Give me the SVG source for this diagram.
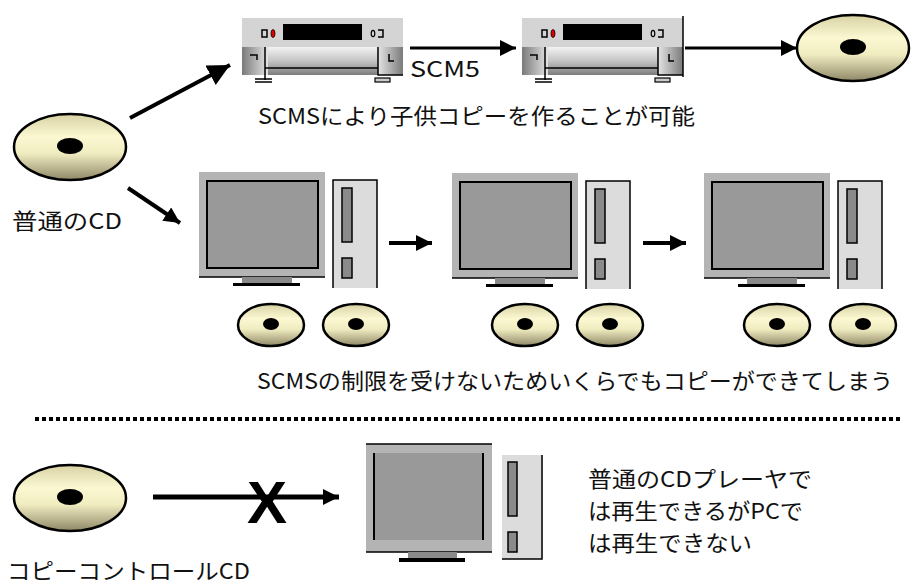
<svg xmlns="http://www.w3.org/2000/svg" width="911" height="585" viewBox="0 0 911 585">
  <style>
    .lbl { font-family: "Noto Sans CJK JP", "Liberation Sans", sans-serif; font-size: 22px; fill: #111; }
    .edge { stroke: #000; fill: none; }
    .disc { stroke: #000; stroke-width: 2.5; fill: url(#discFill); }
    .hole { fill: #000; }
    .monitor { fill: #b4b4b4; }
    .screen { fill: #999; }
    .tower { fill: #dcdcdc; }
    .slot { fill: #8a8a8a; stroke: #000; stroke-width: 1.5; }
  </style>
  <defs>
    <linearGradient id="discFill" x1="0" y1="0" x2="0" y2="1">
      <stop offset="0" stop-color="#d8d2a4"/>
      <stop offset="0.35" stop-color="#fbf8d2"/>
      <stop offset="0.6" stop-color="#f0ecc0"/>
      <stop offset="1" stop-color="#8f8868"/>
    </linearGradient>
    <linearGradient id="deckBody" x1="0" y1="0" x2="0" y2="1">
      <stop offset="0" stop-color="#f2f2f2"/>
      <stop offset="0.5" stop-color="#c4c4c4"/>
      <stop offset="1" stop-color="#7c7c7c"/>
    </linearGradient>
    <linearGradient id="capL" x1="0" y1="0" x2="1" y2="0">
      <stop offset="0" stop-color="#7a7a7a"/>
      <stop offset="1" stop-color="#e4e4e4"/>
    </linearGradient>
    <linearGradient id="capR" x1="0" y1="0" x2="1" y2="0">
      <stop offset="0" stop-color="#e4e4e4"/>
      <stop offset="1" stop-color="#7a7a7a"/>
    </linearGradient>
    <marker id="headL" markerUnits="userSpaceOnUse" markerWidth="24" markerHeight="22" refX="22" refY="11" orient="auto">
      <path d="M0,0 L22,11 L0,22 Z" fill="#000"/>
    </marker>
    <marker id="headM" markerUnits="userSpaceOnUse" markerWidth="18" markerHeight="16" refX="16" refY="8" orient="auto">
      <path d="M0,0 L16,8 L0,16 Z" fill="#000"/>
    </marker>
    <!-- tape deck -->
    <g id="deck">
      <rect x="0" y="0" width="161" height="30" fill="#d4d4d4"/>
      <rect x="41" y="6" width="79" height="16" fill="#000"/>
      <rect x="20" y="12" width="5" height="7" fill="none" stroke="#000" stroke-width="1.5"/>
      <ellipse cx="31" cy="15.5" rx="2" ry="4" fill="#e00000" stroke="#000" stroke-width="0.8"/>
      <ellipse cx="131" cy="15.5" rx="1.8" ry="3.2" fill="none" stroke="#000" stroke-width="1.2"/>
      <path d="M136,12 H141 V19 H136" fill="none" stroke="#000" stroke-width="1.5"/>
      <rect x="0" y="29" width="161" height="28" fill="url(#deckBody)"/>
      <rect x="0" y="29" width="26" height="28" fill="url(#capL)"/>
      <rect x="136" y="29" width="25" height="28" fill="url(#capR)"/>
      <path d="M8,37 H15 V42" fill="none" stroke="#000" stroke-width="1.5"/>
      <path d="M147,36 V43 H152" fill="none" stroke="#000" stroke-width="1.5"/>
      <path d="M23,29 V62 M23,50 H136 M136,29 V57 H161" fill="none" stroke="#000" stroke-width="1.5"/>
      <path d="M13,61 H30 M13,64 H30" stroke="#000" stroke-width="1.5"/>
      <rect x="133" y="60" width="15" height="4" fill="#ccc" stroke="#000" stroke-width="1.2"/>
    </g>
    <!-- desktop computer -->
    <g id="pc">
      <rect x="0" y="0" width="126" height="105" class="monitor"/>
      <rect x="8" y="9" width="111" height="87" class="screen" stroke="#000" stroke-width="2"/>
      <line x1="0" y1="105" x2="126" y2="105" stroke="#000" stroke-width="1.5"/>
      <rect x="43" y="105" width="50" height="6" fill="#8a8a8a"/>
      <rect x="34" y="111" width="67" height="3" fill="#000"/>
      <rect x="134" y="8" width="44" height="108" class="tower"/>
      <path d="M134,116 V8 H178 V116" fill="none" stroke="#000" stroke-width="1.5"/>
      <rect x="143" y="16" width="10" height="54" class="slot"/>
      <rect x="143" y="86" width="10" height="20" class="slot"/>
    </g>
    <g id="bigDisc">
      <ellipse cx="0" cy="0" rx="56" ry="33" class="disc"/>
      <ellipse cx="0" cy="-1" rx="13" ry="8" class="hole"/>
    </g>
    <g id="smallDisc">
      <ellipse cx="0" cy="0" rx="33" ry="21" class="disc"/>
      <ellipse cx="0" cy="-1" rx="8" ry="6" class="hole"/>
    </g>
  </defs>

  <rect width="911" height="585" fill="#fff"/>

  <!-- connectors -->
  <g id="connectors">
    <line x1="130" y1="118" x2="230" y2="65" class="edge" stroke-width="4" marker-end="url(#headL)"/>
    <line x1="128" y1="188" x2="180" y2="223" class="edge" stroke-width="4" marker-end="url(#headM)"/>
    <line x1="410" y1="48" x2="516" y2="48" class="edge" stroke-width="3" marker-end="url(#headM)"/>
    <line x1="685" y1="48" x2="797" y2="48" class="edge" stroke-width="3" marker-end="url(#headM)"/>
    <line x1="389" y1="243" x2="432" y2="243" class="edge" stroke-width="4" marker-end="url(#headM)"/>
    <line x1="643" y1="243" x2="686" y2="243" class="edge" stroke-width="4" marker-end="url(#headM)"/>
    <line x1="153" y1="497" x2="339" y2="497" class="edge" stroke-width="5" marker-end="url(#headM)"/>
    <text x="247" y="523" font-family="Liberation Sans, sans-serif" font-size="60" font-weight="bold" fill="#000">X</text>
    <line x1="35" y1="419" x2="903" y2="419" stroke="#000" stroke-width="4" stroke-dasharray="4 3"/>
  </g>

  <!-- top row: CD to decks -->
  <g id="cd-normal">
    <use href="#bigDisc" x="70" y="147"/>
    <text class="lbl" x="12" y="229" textLength="110" lengthAdjust="spacingAndGlyphs">普通のCD</text>
  </g>
  <g id="deck-1"><use href="#deck" x="242" y="18"/></g>
  <g id="deck-2">
    <use href="#deck" x="522" y="18"/>
    <line x1="683" y1="16" x2="683" y2="77" stroke="#000" stroke-width="1.5"/>
  </g>
  <text class="lbl" x="410" y="77" font-size="20" textLength="70" lengthAdjust="spacingAndGlyphs">SCM5</text>
  <g id="cd-copy"><use href="#bigDisc" x="853" y="48"/></g>
  <text class="lbl" x="258" y="124" textLength="437" lengthAdjust="spacingAndGlyphs">SCMSにより子供コピーを作ることが可能</text>

  <!-- middle row: computers -->
  <g id="pc-1">
    <use href="#pc" x="199" y="172"/>
    <use href="#smallDisc" x="271" y="325"/>
    <use href="#smallDisc" x="356" y="325"/>
  </g>
  <g id="pc-2">
    <use href="#pc" x="452" y="173"/>
    <use href="#smallDisc" x="525" y="325"/>
    <use href="#smallDisc" x="610" y="325"/>
  </g>
  <g id="pc-3">
    <use href="#pc" x="704" y="173"/>
    <use href="#smallDisc" x="777" y="325"/>
    <use href="#smallDisc" x="863" y="325"/>
  </g>
  <text class="lbl" x="257" y="389" textLength="636" lengthAdjust="spacingAndGlyphs">SCMSの制限を受けないためいくらでもコピーができてしまう</text>

  <!-- bottom row: copy-controlled CD -->
  <g id="cd-controlled">
    <use href="#bigDisc" x="70" y="498"/>
    <text class="lbl" x="7" y="579" font-size="21" textLength="243" lengthAdjust="spacingAndGlyphs">コピーコントロールCD</text>
  </g>
  <g id="pc-blocked">
    <rect x="366" y="444" width="126" height="108" class="monitor"/>
    <rect x="373" y="453" width="110" height="87" class="screen"/>
    <path d="M374,453 V540 M483,453 V540" stroke="#000" stroke-width="2"/>
    <path d="M366,444 H492 M366,552 H492" stroke="#000" stroke-width="1.5"/>
    <rect x="408" y="552" width="49" height="6" fill="#8a8a8a"/>
    <rect x="399" y="558" width="66" height="4" fill="#000"/>
    <rect x="502" y="455" width="41" height="104" class="tower"/>
    <path d="M542,455 V559 H502" fill="none" stroke="#000" stroke-width="1.5"/>
    <rect x="508" y="462" width="9" height="54" class="slot"/>
    <rect x="508" y="532" width="9" height="20" class="slot"/>
  </g>
  <g id="note">
    <text class="lbl" x="588" y="487" textLength="224" lengthAdjust="spacingAndGlyphs">普通のCDプレーヤで</text>
    <text class="lbl" x="588" y="519" textLength="215" lengthAdjust="spacingAndGlyphs">は再生できるがPCで</text>
    <text class="lbl" x="588" y="551" textLength="164" lengthAdjust="spacingAndGlyphs">は再生できない</text>
  </g>
</svg>
